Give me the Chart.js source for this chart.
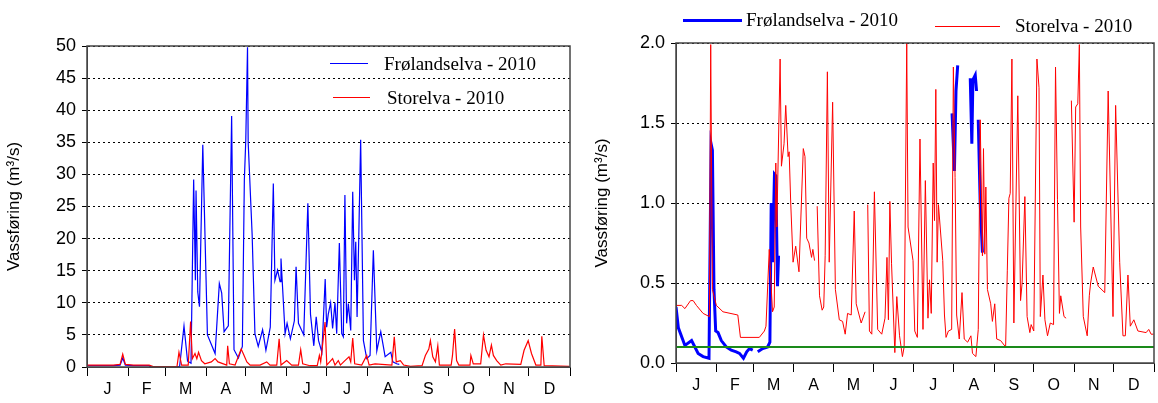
<!DOCTYPE html>
<html lang="no">
<head>
<meta charset="UTF-8" />
<title>Vassføring 2010</title>
<script src="https://cdn.jsdelivr.net/npm/chart.js"></script>
<style>
  body { margin: 0; background: #fff; width: 1158px; height: 403px; position: relative; overflow: hidden; }
  .box { position: absolute; top: 0; height: 403px; }
  .leg { position: absolute; font-family: "Liberation Serif", serif; font-size: 19px; color: #000; white-space: nowrap; line-height: 20px; }
  .sw { position: absolute; }
</style>
</head>
<body>
<div class="box" style="left:0;width:580px"><canvas id="left" width="580" height="403"></canvas></div>
<div class="box" style="left:588px;width:570px"><canvas id="right" width="570" height="403"></canvas></div>

<div class="sw" style="left:330px;top:63px;width:38px;height:1px;background:#0000ff"></div>
<div class="leg" style="left:384px;top:54px">Frølandselva - 2010</div>
<div class="sw" style="left:333px;top:97px;width:37px;height:1px;background:#ff0000"></div>
<div class="leg" style="left:387px;top:88px">Storelva - 2010</div>

<div class="sw" style="left:683px;top:19px;width:59px;height:3px;background:#0000ff"></div>
<div class="leg" style="left:746px;top:10px">Frølandselva - 2010</div>
<div class="sw" style="left:935px;top:26px;width:65px;height:1px;background:#ff0000"></div>
<div class="leg" style="left:1015px;top:16px">Storelva - 2010</div>

<script>
// month boundaries (day of year) and labels
const monthStarts = [0, 31, 59, 90, 120, 151, 181, 212, 243, 273, 304, 334, 365];
const monthLetters = ['J', 'F', 'M', 'A', 'M', 'J', 'J', 'A', 'S', 'O', 'N', 'D'];

// left panel: Frølandselva (m3/s)
const frolDaysL = [0, 10, 20, 25, 27, 29, 35, 47, 48, 60, 70, 73.3, 76, 78.6, 80.6, 81.9, 82.4, 83.7, 85, 87.5, 91, 96.8, 100, 101.8, 103.6, 106.8, 109.3, 111.1, 114.4, 117.4, 118.9, 120, 121.3, 121.8, 124.8, 126.9, 129.4, 132.7, 135.2, 138.5, 140.8, 142, 144, 145.9, 146.6, 149.7, 151.2, 153.7, 156.7, 158, 159.8, 163.8, 166.9, 168.9, 171.4, 173.2, 175, 177.5, 180, 181.1, 182.3, 184.1, 185.6, 187.4, 188.7, 190.7, 192.5, 193.7, 194.9, 196.2, 197.5, 199.3, 200.8, 202.1, 203.1, 204.1, 205.3, 206.8, 208.9, 211.4, 213.9, 216.4, 219, 222, 225.3, 229.6, 231.1, 234, 236];
const frolValsL = [0.2, 0.2, 0.2, 0.3, 1.4, 0.3, 0.2, 0.2, 0, 0, 0.1, 6.4, 0.9, 0.6, 29.2, 13.5, 27.5, 11.7, 9.4, 34.6, 5.0, 2.1, 13.0, 11.5, 5.5, 6.4, 39.1, 2.7, 1.4, 3.2, 29.1, 35.4, 49.8, 35, 20.6, 5.2, 3.2, 5.8, 2.6, 6.2, 28.6, 13.5, 15.1, 13.3, 16.9, 5.2, 6.8, 4.4, 7.2, 15.6, 6.8, 5.0, 25.5, 8.2, 3.3, 7.8, 4.1, 2.3, 13.7, 6.2, 8.2, 10.0, 6.0, 10.0, 5.2, 19.3, 5.2, 4.7, 26.8, 6.8, 9.9, 5.7, 27.3, 13.5, 19.5, 7.8, 19.5, 35.4, 4.1, 1.3, 1.8, 18.2, 2.5, 5.5, 1.6, 2.3, 0.8, 0.5, 0.4];

// left panel: Storelva (m3/s)
const storDaysL = [0, 20, 25, 27, 29, 35, 47, 50, 68, 69.5, 71.5, 76.5, 78.3, 79.6, 81.6, 83, 84.3, 86.5, 89, 94, 96.8, 99, 105.6, 106.3, 107.6, 111.9, 116.5, 118.3, 120.8, 123.3, 130.8, 135.8, 138.3, 143.4, 145.2, 146.6, 150.9, 154.7, 159.8, 161.5, 163, 168.5, 174, 175.6, 176.6, 179.9, 181.2, 185.6, 187.4, 189.9, 191.5, 194.9, 198, 199.3, 200.8, 202.3, 207.6, 211.4, 213.2, 217.7, 230.4, 232.2, 233.7, 236.8, 239.3, 244.4, 253.2, 255.7, 258.3, 259.5, 261.3, 263.3, 265.1, 266.3, 275.2, 276.2, 277.8, 279.3, 281, 289.4, 290.1, 291.9, 297.5, 299.6, 301.6, 303.8, 305.6, 307.1, 309.6, 312.7, 316.5, 327.8, 330.3, 333.4, 335.9, 339.2, 343, 343.7, 345.5, 364.4];
const storValsL = [0.3, 0.3, 0.4, 2.0, 0.4, 0.3, 0.3, 0.05, 0.05, 2.3, 0.3, 0.3, 7.1, 1.3, 2.1, 1.3, 2.3, 1.0, 0.5, 0.8, 1.3, 0.8, 0.3, 3.3, 0.5, 0.3, 2.8, 2.0, 0.8, 0.3, 0.3, 0.8, 0.3, 0.3, 4.4, 0.3, 1.0, 0.3, 0.3, 2.7, 0.5, 0.2, 0.2, 1.8, 0.8, 7.0, 0.3, 1.3, 0.3, 1.0, 0.3, 1.0, 1.6, 0.8, 4.5, 0.5, 0.3, 1.8, 0.3, 0.5, 0.3, 4.7, 0.8, 1.0, 0.3, 0.1, 0.2, 1.8, 2.8, 4.1, 1.6, 0.8, 3.3, 0.3, 0.3, 1.8, 5.9, 1.0, 0.3, 0.3, 1.8, 0.5, 0.5, 5.0, 2.6, 1.6, 3.4, 1.8, 1.0, 0.3, 0.5, 0.4, 2.6, 4.1, 2.1, 0.3, 0.3, 4.8, 0.2, 0.1];

// right panel: Frølandselva (m3/s), null = gap
const frolDaysR = [0, 1.8, 6.8, 11.9, 16.9, 20.7, 25.2, 26.8, 27.8, 29, 30.3, 32.1, 34.6, 38.4, 42.2, 46, 48.5, 51.5, 54, 56.1, 58.6, 60, 62.4, 66.2, 70, 71.7, 72.7, 73.7, 75.2, 76.2, 77.5, 78.3, 100, 210.8, 212.6, 213.8, 215.1, 220, 224.7, 225.9, 226.7, 228.5, 229.5, 230.1, 230.8, 232.3, 234];
const frolValsR = [0.35, 0.22, 0.11, 0.14, 0.06, 0.04, 0.03, 1.37, 1.33, 0.46, 0.20, 0.19, 0.14, 0.10, 0.08, 0.07, 0.06, 0.03, 0.07, 0.09, 0.08, null, 0.07, 0.09, 0.10, 0.13, 1.00, 0.63, 1.18, 1.17, 0.48, 0.67, null, 1.56, 1.20, 1.70, 1.86, null, 1.78, 1.37, 1.77, 1.80, 1.70, null, 1.52, 1.00, 0.69];

// right panel: Storelva (m3/s), null = gap
const storDaysR = [0, 4.3, 6.8, 11.1, 13.1, 15.6, 20.7, 25.5, 26.5, 27.8, 30.8, 35.9, 47.2, 49.2, 63.6, 67.5, 68.7, 71.2, 73.7, 75, 76.2, 77, 79.5, 80.5, 82.5, 83.8, 85.6, 86.4, 87.6, 89.4, 91.4, 93.9, 97.2, 98.5, 99.8, 101.5, 103.5, 104.5, 105.8, 106.8, 107.8, 109.6, 111.6, 112.8, 113.9, 115.6, 117, 119.6, 121.7, 124.7, 127.2, 129.2, 131, 133.8, 136.1, 137.6, 141.4, 144.4, 145.4, 146.4, 147.7, 149.5, 151.5, 154, 157.1, 159.6, 161.1, 162.2, 163.3, 164.6, 167.1, 168.6, 170.7, 172.9, 174.2, 176.2, 177.2, 181, 182.3, 184.3, 186.3, 188.6, 190.4, 192.4, 193.6, 194.9, 196.4, 197.4, 198.4, 199.4, 200.4, 203.7, 205, 206.2, 208, 210.5, 211.8, 213.1, 214.3, 216.3, 218.4, 220.1, 222.7, 225.2, 226.4, 229, 230.8, 232.3, 234, 234.8, 235.8, 236.6, 237.8, 240.3, 241.6, 243.4, 244.9, 247.9, 251.7, 253, 254.2, 255.2, 256.5, 258, 261, 263.1, 264.3, 266.4, 268.1, 270.2, 271.2, 273.2, 275.6, 277.2, 278.2, 280.2, 281.7, 283.7, 285.8, 288.3, 289.8, 291.3, 292.8, 293.8, 296.3, 297.9, 299.9, 301.9, 304, 305.2, 306.8, 308, 309, 311, 314, 315.6, 316.6, 318.6, 322.4, 327.4, 330, 332.5, 333.7, 335.7, 338.8, 341.3, 343.1, 345.1, 346.9, 349.6, 352.7, 359, 361, 362.8, 364.6];
const storValsR = [0.36, 0.36, 0.34, 0.39, 0.39, 0.36, 0.31, 0.29, 1.99, 0.46, 0.36, 0.32, 0.30, 0.16, 0.16, 0.20, 0.23, 0.71, 0.32, 0.35, 1.25, 0.85, 1.90, 1.23, 1.37, 1.61, 1.29, 1.32, 1.00, 0.63, 0.73, 0.57, 1.34, 1.29, 0.78, 0.75, 0.66, 0.71, 0.64, null, 0.98, 0.42, 0.33, 0.35, 0.67, 1.82, 0.63, 1.63, 0.46, 0.27, 0.26, 0.18, 0.31, 0.30, 0.95, 0.37, 0.25, 0.32, null, 0.99, 0.20, 0.18, 1.07, 0.21, 0.18, 0.28, 0.66, 0.27, 1.01, 0.62, 0.065, 0.415, 0.17, 0.04, 0.10, 2.0, 0.85, 0.64, 0.20, 0.16, 1.40, 0.21, 1.14, 0.28, 0.52, 0.31, 1.25, 0.89, 1.71, 0.63, 0.99, 0.64, 0.30, 0.16, 0.20, 0.21, 1.85, 1.16, 0.30, 0.15, 0.44, 0.15, 0.13, 0.17, 0.06, 0.04, 0.21, 1.52, 0.67, 1.34, 0.68, 1.10, 0.46, 0.37, 0.26, 0.37, 0.15, 0.14, 0.10, 0.58, 1.03, 1.06, 1.90, 0.25, 1.67, 0.39, 0.50, 1.04, 0.29, 0.19, 0.24, 0.20, 1.90, 1.72, 0.29, 0.55, 0.27, 0.17, 0.25, 0.24, 1.85, 1.02, 0.31, 0.42, 0.29, 0.28, null, 1.64, 0.88, 1.60, 1.62, 1.99, 0.85, 0.29, 0.17, 0.42, 0.50, 0.60, 0.48, 0.44, 1.70, 0.75, 0.29, 1.61, 0.63, 0.17, 0.17, 0.55, 0.23, 0.27, 0.20, 0.19, 0.21, 0.18, 0.18];

// right panel: reference level
const refDays = [0, 365];
const refVals = [0.1, 0.1];

const pts = (xs, ys) => xs.map((x, i) => ({ x: x, y: ys[i] }));

const monthTicks = [];
monthStarts.forEach((d, i) => {
  monthTicks.push(d);
  if (i < 12) monthTicks.push((d + monthStarts[i + 1]) / 2);
});

const frame = {
  id: 'frame',
  afterDraw(chart) {
    const a = chart.chartArea, c = chart.ctx;
    c.save();
    c.strokeStyle = '#444';
    c.lineWidth = 1.5;
    c.strokeRect(a.left, a.top, a.right - a.left, a.bottom - a.top);
    c.restore();
  }
};

function makeChart(id, opts) {
  return new Chart(document.getElementById(id), {
    type: 'line',
    data: { datasets: opts.datasets },
    plugins: [frame],
    options: {
      responsive: false,
      animation: false,
      layout: { padding: { top: opts.top, right: opts.right, left: 0, bottom: 0 } },
      plugins: { legend: { display: false }, tooltip: { enabled: false } },
      elements: { point: { radius: 0 }, line: { tension: 0 } },
      scales: {
        x: {
          type: 'linear', min: 0, max: 365,
          afterBuildTicks: s => { s.ticks = monthTicks.map(v => ({ value: v })); },
          afterFit: s => { s.height = opts.xh; },
          ticks: {
            autoSkip: false, maxRotation: 0, padding: 4,
            color: '#000', font: { family: 'Liberation Sans', size: 16 },
            callback: (v, i) => (i % 2 ? monthLetters[(i - 1) / 2] : '')
          },
          grid: {
            drawOnChartArea: false, tickLength: 9,
            color: c => (c.index % 2 === 0 ? '#000' : 'rgba(0,0,0,0)')
          },
          border: { color: '#444' }
        },
        y: {
          min: 0, max: opts.ymax,
          afterFit: s => { s.width = opts.yw; },
          ticks: {
            stepSize: opts.step, color: '#000', padding: 6,
            font: { family: 'Liberation Sans', size: 18 },
            callback: opts.fmt
          },
          grid: { color: '#000', lineWidth: 1, tickLength: 5 },
          border: { color: '#444', dash: [2, 3] },
          title: {
            display: true, text: 'Vassføring (m³/s)', color: '#000',
            font: { family: 'Liberation Sans', size: 17 }, padding: { bottom: 4 }
          }
        }
      }
    }
  });
}

makeChart('left', {
  top: 46, right: 10, xh: 36, yw: 87, ymax: 50, step: 5,
  fmt: v => v,
  datasets: [
    { data: pts(storDaysL, storValsL), borderColor: '#ff0000', borderWidth: 1.2 },
    { data: pts(frolDaysL, frolValsL), borderColor: '#0000ff', borderWidth: 1.2 }
  ]
});

makeChart('right', {
  top: 43, right: 1, xh: 40, yw: 88, ymax: 2, step: 0.5,
  fmt: v => v.toFixed(1),
  datasets: [
    { data: pts(refDays, refVals), borderColor: '#1a8a1a', borderWidth: 2 },
    { data: pts(storDaysR, storValsR), borderColor: '#ff0000', borderWidth: 1, spanGaps: false },
    { data: pts(frolDaysR, frolValsR), borderColor: '#0000ff', borderWidth: 3, spanGaps: false }
  ]
});
</script>
</body>
</html>
